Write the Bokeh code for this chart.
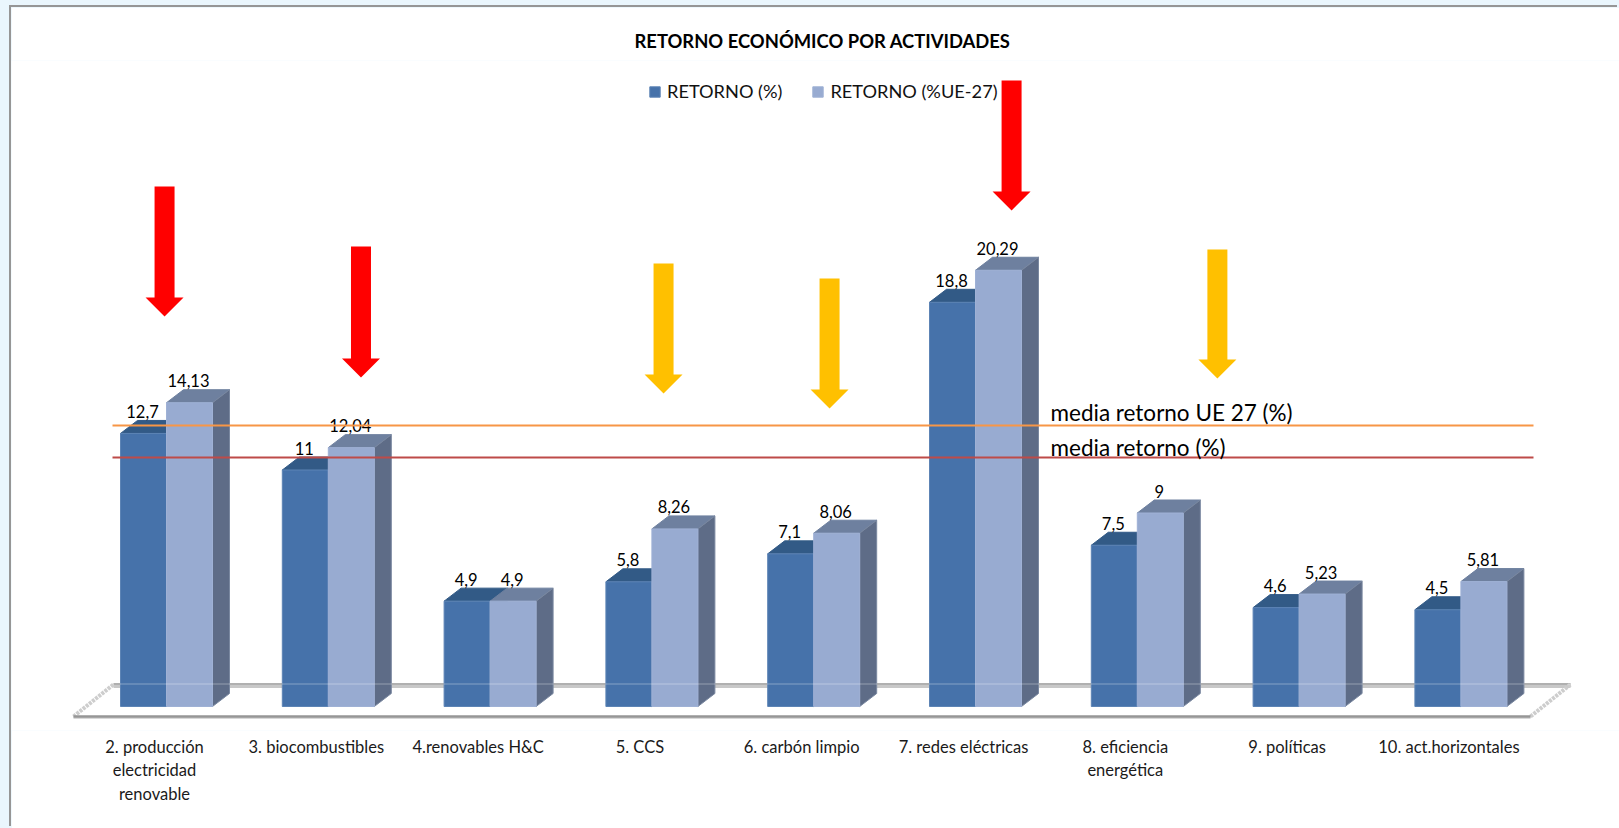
from bokeh.plotting import figure
from bokeh.models import (ColumnDataSource, FixedTicker, LinearAxis, Range1d, Legend, LegendItem, Title)
from bokeh.core.properties import value
from bokeh.embed import file_html
from bokeh.resources import INLINE

# ---------- data ----------
categories = ["2. producción\nelectricidad\nrenovable", "3. biocombustibles", "4.renovables H&C", "5. CCS",
              "6. carbón limpio", "7. redes eléctricas", "8. eficiencia\nenergética", "9. políticas",
              "10. act.horizontales"]
retorno = [12.7, 11, 4.9, 5.8, 7.1, 18.8, 7.5, 4.6, 4.5]
retorno_ue = [14.13, 12.04, 4.9, 8.26, 8.06, 20.29, 9, 5.23, 5.81]
series_names = ["RETORNO (%)", "RETORNO (%UE-27)"]
media_ue = 13.07
media = 11.58
media_labels = ["media retorno  UE 27 (%)", "media retorno (%)"]
title_text = "RETORNO ECONÓMICO POR ACTIVIDADES"
# block arrows: category position, top value, tip value, colour
arrow_x = [-0.012, 1.202, 3.072, 4.098, 6.495, 5.223]
arrow_top = [24.19, 21.40, 20.60, 19.91, 21.26, 29.12]
arrow_tip = [18.14, 15.30, 14.56, 13.86, 15.26, 23.07]
arrow_color = ["#FF0000", "#FF0000", "#FFC000", "#FFC000", "#FFC000", "#FF0000"]

# ---------- scale (page pixels per data unit) ----------
PX_X, PX_Y = 161.8, 21.5
ORIGIN_X, ORIGIN_Y = 166, 706
FIG_LEFT, FIG_TOP, FIG_W, FIG_H = 11, 7, 1608, 821
FRAME_TOP, FRAME_BOTTOM = 60, 730


def dx(px):
    return (px - ORIGIN_X) / PX_X


def dy(py):
    return (ORIGIN_Y - py) / PX_Y


x0, x1 = dx(FIG_LEFT), dx(FIG_LEFT + FIG_W)
LABEL_SHIFT = 12 / PX_X
FONT = "Lato"

p = figure(width=FIG_W, height=FIG_H, output_backend="svg", toolbar_location=None,
           x_range=Range1d(x0, x1), y_range=Range1d(dy(FRAME_BOTTOM), dy(FRAME_TOP)),
           x_axis_location=None, y_axis_location=None,
           min_border_left=0, min_border_right=0,
           min_border_top=FRAME_TOP - FIG_TOP, min_border_bottom=FIG_TOP + FIG_H - FRAME_BOTTOM,
           background_fill_color="white", border_fill_color="white", outline_line_color=None,
           styles={"box-shadow": "-2px -2px 0 #969696"})
p.grid.visible = False

p.title = Title(text=title_text, align="left", offset=634 - FIG_LEFT, standoff=18, text_font=FONT, text_font_size="18.4px",
                text_font_style="bold", text_color="#000000")

# axis with category labels
p.extra_x_ranges = {"labels": Range1d(x0 + LABEL_SHIFT, x1 + LABEL_SHIFT)}
ax = LinearAxis(x_range_name="labels", ticker=FixedTicker(ticks=list(range(len(categories)))),
                major_label_overrides={i: c for i, c in enumerate(categories)},
                axis_line_color=None, major_tick_line_color=None, minor_tick_line_color=None,
                major_label_standoff=0, major_label_text_font=FONT, major_label_text_font_size="16.5px",
                major_label_text_color="#1a1a1a", major_label_text_line_height=1.18)
p.add_layout(ax, "below")

# floor
fy0, fy1 = dy(716), dy(684)
fxl0, fxr0 = dx(73), dx(1530)
fxl1, fxr1 = dx(113), dx(1570)
p.line([fxl1, fxr1], [dy(686), dy(686)], line_color="#C8C8C8", line_width=3)
p.line([fxl1, fxr1], [dy(683.5), dy(683.5)], line_color="#A0A0A0", line_width=2)
p.line([fxl0, fxl1], [fy0, fy1], line_color="#CDCDCD", line_width=4, line_dash="3 1")
p.line([fxr0, fxr1], [fy0, fy1], line_color="#CDCDCD", line_width=4, line_dash="3 1")
p.line([fxl0, fxr0], [dy(717), dy(717)], line_color="#D8D8D8", line_width=3)
p.line([fxl0, fxr0], [fy0, fy0], line_color="#969696", line_width=2.5)

# 3D bars
W = 46 / PX_X
DEPTH_X, DEPTH_Y = 17 / PX_X, 13 / PX_Y
n = range(len(categories))


def faces(centers, vals):
    tx = [[c - W / 2, c + W / 2, c + W / 2 + DEPTH_X, c - W / 2 + DEPTH_X] for c in centers]
    ty = [[v, v, v + DEPTH_Y, v + DEPTH_Y] for v in vals]
    sx = [[c + W / 2, c + W / 2 + DEPTH_X, c + W / 2 + DEPTH_X, c + W / 2] for c in centers]
    sy = [[0, DEPTH_Y, v + DEPTH_Y, v] for v in vals]
    return tx, ty, sx, sy


cd = [i - W / 2 for i in n]
cl = [i + W / 2 for i in n]
tx, ty, sx, sy = faces(cd, retorno)
p.patches(tx, ty, fill_color="#325A86", line_color="#325A86")
p.patches(sx, sy, fill_color="#325A86", line_color="#325A86")
r1 = p.vbar(x=cd, top=retorno, bottom=0, width=W, fill_color="#4672AA", line_color="#5D84B5", line_width=1)
tx, ty, sx, sy = faces(cl, retorno_ue)
p.patches(tx, ty, fill_color="#6E809F", line_color="#6E809F")
p.patches(sx, sy, fill_color="#5E6C87", line_color="#7A88A0")
r2 = p.vbar(x=cl, top=retorno_ue, bottom=0, width=W, fill_color="#98ABD1", line_color="#9FB1D5", line_width=1)

# faint floor line seen through the bars
p.line([fxl1, fxr1], [dy(683.5), dy(683.5)], line_color="#FFFFFF", line_width=1, line_alpha=0.35)


def fmt(v):
    return str(v).replace(".", ",")


src = ColumnDataSource(dict(x=cd + cl, y=retorno + retorno_ue, t=[fmt(v) for v in retorno + retorno_ue]))
p.text(x="x", y="y", text="t", source=src, text_align="center", text_baseline="middle", y_offset=-22, x_offset=-1,
       text_font=value(FONT), text_font_size="16.5px", text_color="#000000")

# mean lines
p.line([dx(112), dx(1533)], [media_ue, media_ue], line_color="#F79646", line_width=2)
p.line([dx(112), dx(1533)], [media, media], line_color="#BE4B48", line_width=2)
p.text(x=[dx(1050)], y=[media_ue], text=[media_labels[0]], text_baseline="middle", y_offset=-13,
       text_font=value(FONT), text_font_size="22.5px", text_color="#000000")
p.text(x=[dx(1050)], y=[media], text=[media_labels[1]], text_baseline="middle", y_offset=-10,
       text_font=value(FONT), text_font_size="22.5px", text_color="#000000")

# block arrows
HEAD_PX, TAIL_HALF, HEAD_HALF = 19 / PX_Y, 10 / PX_X, 19 / PX_X
ax_x, ax_y = [], []
for x, t, b in zip(arrow_x, arrow_top, arrow_tip):
    h = b + HEAD_PX
    ax_x.append([x - TAIL_HALF, x + TAIL_HALF, x + TAIL_HALF, x + HEAD_HALF, x, x - HEAD_HALF, x - TAIL_HALF])
    ax_y.append([t, t, h, h, b, h, h])
p.patches(ax_x, ax_y, fill_color=arrow_color, line_color=None)

legend = Legend(items=[LegendItem(label=series_names[0], renderers=[r1]), LegendItem(label=series_names[1], renderers=[r2])],
                orientation="horizontal", location=(648 - FIG_LEFT, 730 - 102), padding=0, margin=0, spacing=29,
                glyph_width=13, glyph_height=13, label_standoff=6, border_line_color=None, background_fill_alpha=0,
                label_text_font=FONT, label_text_font_size="18.2px", label_text_color="#111111")
p.add_layout(legend, "center")

html = file_html(p, INLINE)
html = html.replace("</head>", "<style>html,body{background:#EAF6FD !important;margin:0 !important;overflow:hidden}"
                               "body{padding:7px 0 0 11px !important}</style></head>", 1)
open("out.html", "w").write(html)
